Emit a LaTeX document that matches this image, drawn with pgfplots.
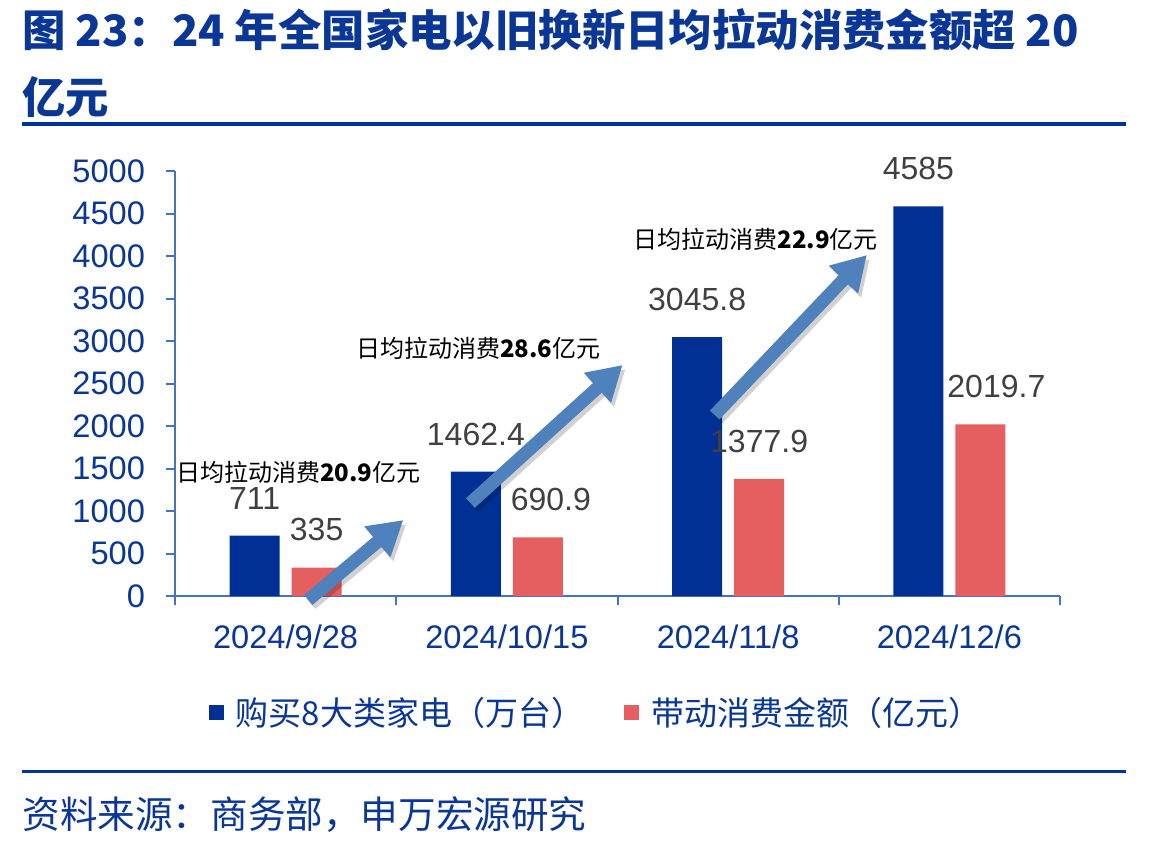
\documentclass[border=0pt]{standalone}
\usepackage{fontspec}
\setmainfont{Liberation Sans}
\newfontfamily\cjk{Noto Sans CJK SC}
\usepackage{pgfplots}
\pgfplotsset{compat=1.18}
\usepackage{pgfplotstable}
\usetikzlibrary{arrows.meta}

\definecolor{barblue}{RGB}{0,48,148}
\definecolor{barred}{RGB}{229,94,96}
\definecolor{axisblue}{RGB}{68,114,196}
\definecolor{textblue}{RGB}{10,55,150}
\definecolor{arrowblue}{RGB}{79,129,189}
\definecolor{valgray}{RGB}{64,64,64}
\definecolor{ruleblue}{RGB}{0,51,153}

\tikzset{
  growth/.style={arrowblue, line width=6.5pt, -{Triangle[length=17pt 0 0, width=19pt 0 0]}},
  growthshadow/.style={black, opacity=0.18, line width=6.5pt, -{Triangle[length=17pt 0 0, width=19pt 0 0]}, shift={(1.5pt,-2pt)}},
  note/.style={font=\cjk\fontsize{12}{14}\selectfont},
}

% appliances bought (10k units) and spending driven (100m yuan);
% dx nudges a value label sideways (pt)
\pgfplotstableread{
x units
0 711
1 1462.4
2 3045.8
3 4585
}\unitsdata
\pgfplotstableread{
x amount dx
0 335    0
1 690.9  6.5
2 1377.9 0
3 2019.7 8
}\amountdata

\begin{document}
\begin{tikzpicture}
\path[use as bounding box] (0,0) rectangle (585.5pt,-424pt);

\node[anchor=west, inner sep=0, text=textblue, font=\cjk\bfseries\fontsize{21.7}{26}\selectfont]
  at (11pt,-15pt) {图 23：24 年全国家电以旧换新日均拉动消费金额超 20};
\node[anchor=west, inner sep=0, text=textblue, font=\cjk\bfseries\fontsize{21.7}{26}\selectfont]
  at (11pt,-48.5pt) {亿元};
\draw[ruleblue, line width=2pt] (11pt,-62pt) -- (563pt,-62pt);

\begin{axis}[
  at={(87.5pt,-298pt)}, anchor=south west,
  scale only axis, width=442.5pt, height=212.5pt,
  xmin=-0.5, xmax=3.5, ymin=0, ymax=5000,
  ybar, bar width=25pt,
  axis x line*=bottom, axis y line*=left,
  axis line style={draw=axisblue, line width=1pt},
  every tick/.style={draw=axisblue, line width=1pt},
  tick align=outside, major tick length=4.5pt,
  xtick={-0.5,0.5,1.5,2.5,3.5}, xticklabels={},
  extra x ticks={0,1,2,3},
  extra x tick labels={2024/9/28,2024/10/15,2024/11/8,2024/12/6},
  extra x tick style={major tick length=0pt, xticklabel style={yshift=-11pt}},
  ytick={0,500,...,5000},
  yticklabel style={xshift=-7pt},
  ticklabel style={font=\fontsize{16.3}{19}\selectfont, text=textblue},
  /pgf/number format/assume math mode=true,
  /pgf/number format/1000 sep={},
  nodes near coords={\pgfmathprintnumber[fixed, precision=1, 1000 sep={}, assume math mode=true]{\pgfplotspointmeta}},
  nodes near coords style={font=\fontsize{16}{19}\selectfont, text=valgray, anchor=south, inner sep=0pt, yshift=13pt},
  legend style={at={(0.477,-0.275)}, anchor=center, draw=none, fill=none,
    legend columns=2, font=\cjk\fontsize{16.5}{20}\selectfont, text=textblue,
    /tikz/every odd column/.append style={column sep=4pt},
    /tikz/every even column/.append style={column sep=18pt}},
  legend image code/.code={\fill[#1] (0pt,-3.75pt) rectangle (7.5pt,3.75pt);},
  clip=false,
]
\addplot[fill=barblue, draw=none, bar shift=-15.5pt] table[x=x, y=units] {\unitsdata};
\addlegendentry{购买8大类家电（万台）}
\addplot[fill=barred, draw=none, bar shift=15.5pt,
  visualization depends on={\thisrow{dx} \as \labeldx},
  every node near coord/.append style={xshift=\labeldx pt}] table[x=x, y=amount] {\amountdata};
\addlegendentry{带动消费金额（亿元）}

% growth arrows with a soft shadow
\draw[growthshadow] (axis cs:0.102,-47) -- (axis cs:0.532,894);
\draw[growth] (axis cs:0.102,-47) -- (axis cs:0.532,894);
\draw[growthshadow] (axis cs:0.835,1094) -- (axis cs:1.523,2718);
\draw[growth] (axis cs:0.835,1094) -- (axis cs:1.523,2718);
\draw[growthshadow] (axis cs:1.939,2129) -- (axis cs:2.627,4012);
\draw[growth] (axis cs:1.939,2129) -- (axis cs:2.627,4012);

\node[note] at (axis cs:0.057,1459) {日均拉动消费\textbf{20.9}亿元};
\node[note] at (axis cs:0.871,2918) {日均拉动消费\textbf{28.6}亿元};
\node[note] at (axis cs:2.124,4200) {日均拉动消费\textbf{22.9}亿元};
\end{axis}

\draw[ruleblue, line width=1.5pt] (11pt,-385.5pt) -- (563pt,-385.5pt);
\node[anchor=west, inner sep=0, text=textblue, font=\cjk\fontsize{18.8}{22}\selectfont]
  at (11pt,-407.5pt) {资料来源：商务部，申万宏源研究};
\end{tikzpicture}
\end{document}
